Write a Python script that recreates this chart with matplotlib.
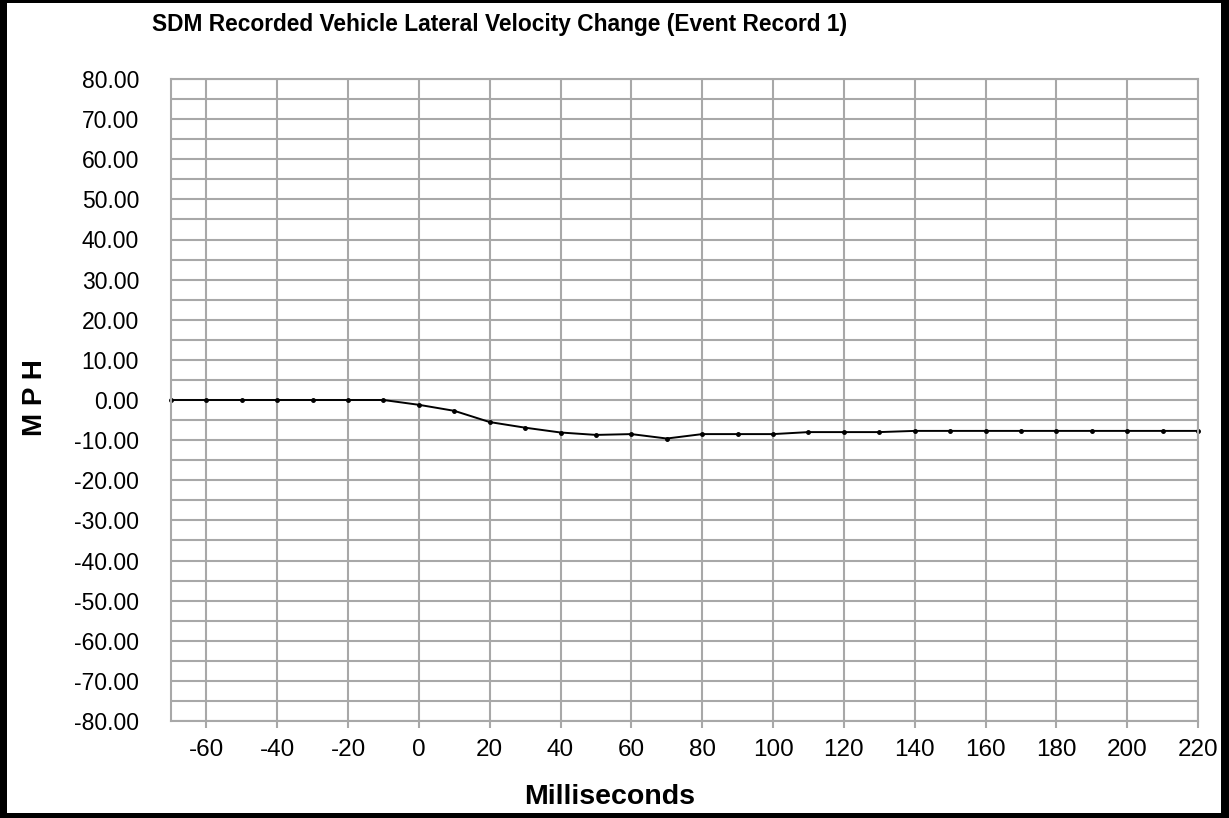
import matplotlib
matplotlib.use('Agg')
import matplotlib.pyplot as plt
from matplotlib.patches import Rectangle

plt.rcParams['font.family'] = ['Liberation Sans', 'DejaVu Sans']

# data
time_ms = [-70, -60, -50, -40, -30, -20, -10, 0, 10, 20, 30, 40, 50, 60, 70,
           80, 90, 100, 110, 120, 130, 140, 150, 160, 170, 180, 190, 200, 210, 220]
lat_mph = [0, 0, 0, 0, 0, 0, 0, -1.2, -2.7, -5.5, -6.9, -8.1, -8.7, -8.5, -9.6,
           -8.5, -8.5, -8.5, -8.0, -8.0, -8.0, -7.7, -7.7, -7.7, -7.7, -7.7, -7.7, -7.7, -7.7, -7.7]
x_ticks = [-60, -40, -20, 0, 20, 40, 60, 80, 100, 120, 140, 160, 180, 200, 220]
y_ticks = [-80, -70, -60, -50, -40, -30, -20, -10, 0, 10, 20, 30, 40, 50, 60, 70, 80]
y_grid = [v / 2 for v in range(-160, 161, 10)]

W, H = 1229, 818
fig = plt.figure(figsize=(W / 100, H / 100), dpi=100)
ax = fig.add_axes([171 / W, 1 - 721 / H, (1198 - 171) / W, (721 - 79) / H])

grid_col = '#a8a8a8'
ax.set_xlim(-70, 220)
ax.set_ylim(-80, 80)
ax.set_xticks(x_ticks)
ax.set_xticklabels([str(t) for t in x_ticks], fontsize=17.5)
ax.set_yticks(y_ticks)
ax.set_yticklabels(['%.2f' % t for t in y_ticks], fontsize=16.5)
ax.set_yticks(y_grid, minor=True)
ax.tick_params(axis='y', which='both', length=0, pad=23)
ax.tick_params(axis='x', length=5, width=1.5, color=grid_col, pad=8)
ax.grid(True, which='major', color=grid_col, linewidth=1.5)
ax.grid(True, which='minor', axis='y', color=grid_col, linewidth=1.5)
ax.set_axisbelow(True)
for s in ax.spines.values():
    s.set_color(grid_col)
    s.set_linewidth(1.5)

ax.plot(time_ms, lat_mph, color='black', linewidth=1.4, marker='o', markersize=2.5, clip_on=False)

fig.text(500 / W, 1 - 25 / H, 'SDM Recorded Vehicle Lateral Velocity Change (Event Record 1)',
         ha='center', va='center', fontsize=16.4, fontweight='bold')
fig.text(35 / W, 1 - 398 / H, 'M P H', ha='center', va='center', rotation=90,
         fontsize=20, fontweight='bold')
fig.text(610 / W, 1 - 797 / H, 'Milliseconds', ha='center', va='center',
         fontsize=20.5, fontweight='bold')

# black frame round the picture
for x0, y0, w, h in [(0, 0, 7, H), (1221, 0, 8, H), (0, 0, W, 3), (0, 813, W, 5)]:
    fig.add_artist(Rectangle((x0 / W, 1 - (y0 + h) / H), w / W, h / H,
                             transform=fig.transFigure, color='black', lw=0))

fig.savefig('out.png', dpi=100)
